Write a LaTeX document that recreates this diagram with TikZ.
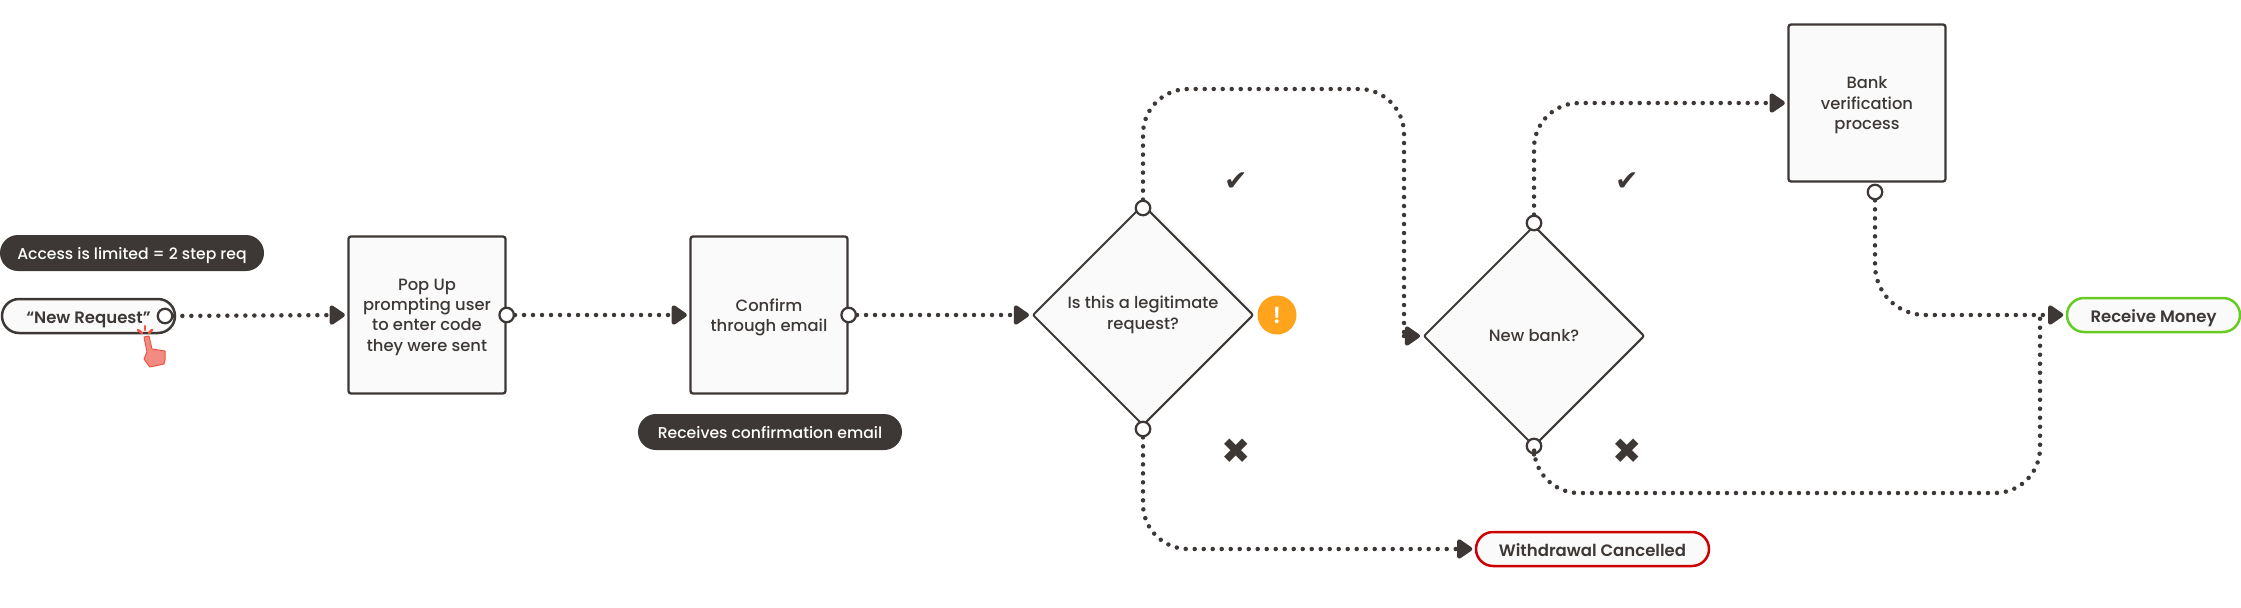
\documentclass[tikz,border=0pt]{standalone}
\usepackage{fontspec}
\usepackage{xcolor}
\usepackage{tikz}
\usetikzlibrary{shapes, arrows.meta, positioning, calc, shapes.geometric}
\setmainfont{Poppins Medium}[BoldFont={Poppins SemiBold}]
\newfontfamily\markfont{DejaVu Sans}
\definecolor{ink}{HTML}{3D3835}
\definecolor{paper}{HTML}{FAFAFA}
\definecolor{stopred}{HTML}{CC0000}
\definecolor{okgreen}{HTML}{66CC22}
\definecolor{warnorange}{HTML}{FFA41C}
\definecolor{handfill}{HTML}{F28B82}
\definecolor{handline}{HTML}{EE5544}

\begin{document}
\begin{tikzpicture}[
    stepbox/.style={rectangle, draw=ink, fill=paper, line width=0.046cm, rounded corners=0.05cm, minimum width=3.14cm, minimum height=3.14cm, text=ink, font=\fontsize{9.3}{11.6}\selectfont, align=center, inner sep=0pt, text depth=-0.05cm},
    decision/.style={diamond, aspect=1, draw=ink, fill=paper, line width=0.04cm, rounded corners=0.04cm, minimum width=4.42cm, minimum height=4.42cm, text=ink, font=\fontsize{9.3}{12}\selectfont, align=center, inner sep=0pt},
    note/.style={rectangle, rounded corners=0.36cm, fill=ink, text=white, minimum height=0.72cm, font=\fontsize{8.9}{12}\selectfont, text height=1.9ex, text depth=0.5ex, inner sep=0pt},
    terminal/.style={rectangle, rounded corners=0.34cm, draw=ink, fill=paper, line width=0.05cm, minimum height=0.68cm, text=ink, font=\fontsize{9.4}{12}\selectfont\bfseries, text height=2.05ex, text depth=0.5ex, inner sep=0pt},
    port/.style={circle, draw=ink, fill=white, line width=0.045cm, minimum size=0.29cm, inner sep=0pt},
    flow/.style={draw=ink, line width=0.09cm, line cap=round, dash pattern=on 0pt off 0.18cm, -{Triangle[length=0.34cm, width=0.44cm, round]}, shorten >=0.05cm},
    joinflow/.style={draw=ink, line width=0.09cm, line cap=round, dash pattern=on 0pt off 0.18cm},
    answer/.style={text=ink, font=\markfont\fontsize{16}{16}\selectfont, inner sep=0pt}
]
\useasboundingbox (0,0) rectangle (44.82,12.14);

% Left side notes and start
\node[note, minimum width=5.28cm] (limit) at (2.64, 7.08) {Access is limited = 2 step req};
\node[terminal, minimum width=3.46cm] (newreq) at (1.77, 5.82) {“New Request”};
\node[port] (pnew) at (3.30, 5.82) {};

% Process boxes
\node[stepbox] (popup) at (8.54, 5.84) {Pop Up\\prompting user\\to enter code\\they were sent};
\node[stepbox] (confirm) at (15.38, 5.84) {Confirm\\through email};
\node[note, minimum width=5.28cm] (mailnote) at (15.4, 3.5) {Receives confirmation email};
\node[port] (ppopup) at (popup.east) {};
\node[port] (pconfirm) at (confirm.east) {};

% Decisions
\node[decision] (legit) at (22.86, 5.84) {Is this a legitimate\\request?};
\node[decision] (newbank) at (30.68, 5.42) {New bank?};
\node[port] (ptopa) at (22.86, 7.98) {};
\node[port] (pbota) at (22.86, 3.56) {};
\node[port] (ptopb) at (30.68, 7.68) {};
\node[port] (pbotb) at (30.68, 3.22) {};

% Warning badge
\node[circle, fill=warnorange, text=white, minimum size=0.78cm, inner sep=0pt, font=\fontsize{13}{13}\selectfont\bfseries] (warn) at (25.54, 5.84) {!};

% Yes and no marks
\node[answer] (yesa) at (24.72, 8.5) {✔};
\node[answer, font=\markfont\fontsize{20}{20}\selectfont] (noa) at (24.72, 3.12) {✖};
\node[answer] (yesb) at (32.54, 8.5) {✔};
\node[answer, font=\markfont\fontsize{20}{20}\selectfont] (nob) at (32.54, 3.12) {✖};

% Bank box and end states
\node[stepbox] (bankver) at (37.34, 10.08) {Bank\\verification\\process};
\node[port] (pbank) at (37.5, 8.30) {};
\node[terminal, draw=okgreen, minimum width=3.46cm] (receive) at (43.07, 5.84) {Receive Money};
\node[terminal, draw=stopred, minimum width=4.66cm] (cancel) at (31.85, 1.16) {Withdrawal Cancelled};

% Corners of the long connectors
\coordinate (cornera) at (28.08, 10.36);
\coordinate (cornerb) at (28.08, 5.42);
\coordinate (cornerc) at (40.8, 2.28);
\coordinate (joinc) at (40.8, 5.84);

% Connections
\draw[flow] (pnew) -- (popup.west);
\draw[flow] (ppopup) -- (confirm.west);
\draw[flow] (pconfirm) -- (legit.west);
\draw[joinflow, rounded corners=0.9cm] (ptopa) |- (cornera) -- (cornerb);
\draw[flow] (cornerb) -- (newbank.west);
\draw[flow, rounded corners=0.9cm] (pbota) |- (cancel.west);
\draw[flow, rounded corners=0.9cm] (ptopb) |- (bankver.west);
\draw[flow, rounded corners=1cm] (pbank) |- (receive.west);
\draw[joinflow, rounded corners=0.9cm] (pbotb) |- (cornerc) -- (joinc);

% Hand pointer on the start button
\draw[fill=handfill, draw=handline, line width=0.02cm, line join=round] (2.88, 5.40) -- (2.98, 5.42) -- (3.04, 5.16) -- (3.30, 5.12) -- (3.30, 4.94) -- (3.28, 4.86) -- (3.00, 4.80) -- (2.88, 4.96) -- (2.94, 5.10) -- cycle;
\draw[handline, line width=0.05cm, line cap=round] (2.76, 5.54) -- (2.84, 5.48);
\draw[handline, line width=0.05cm, line cap=round] (2.90, 5.62) -- (2.90, 5.54);
\draw[handline, line width=0.05cm, line cap=round] (3.04, 5.54) -- (2.98, 5.48);

\end{tikzpicture}
\end{document}
